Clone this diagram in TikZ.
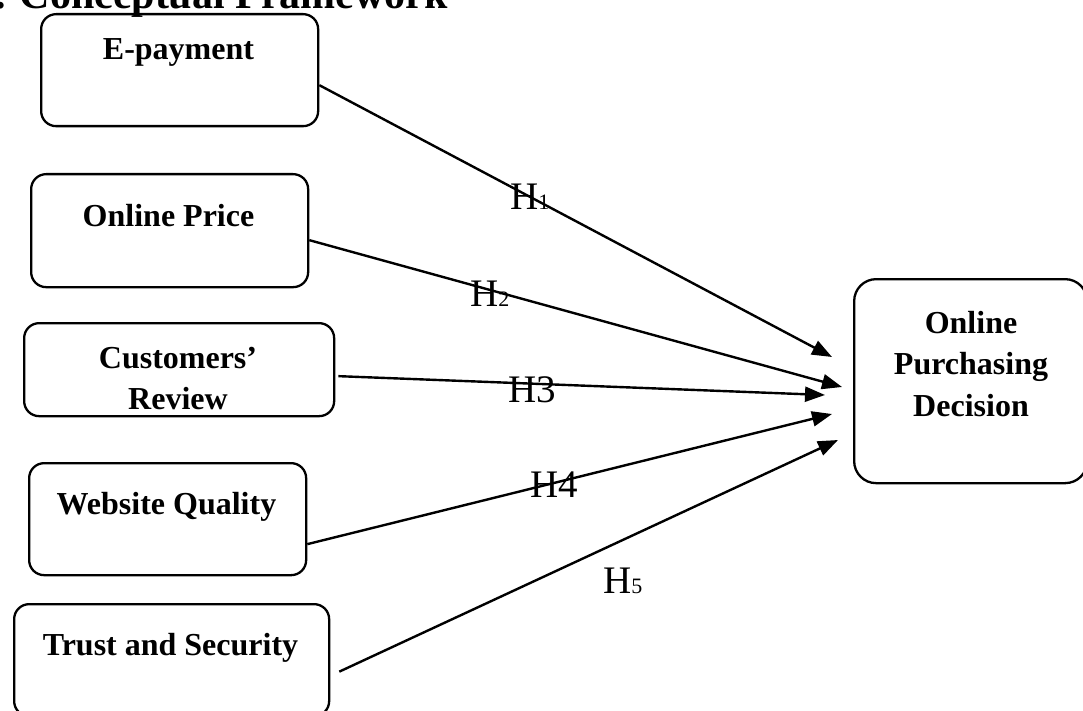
\documentclass[tikz,border=0pt]{standalone}
\usepackage{fontspec}
\setmainfont{Liberation Serif}
\usetikzlibrary{arrows.meta}
\begin{document}
\begin{tikzpicture}[x=1pt,y=-1pt,
  box/.style={draw,line width=2.3pt,rounded corners=15pt,inner sep=0pt,anchor=north west},
  lab/.style={font=\fontsize{32}{41.5}\selectfont\bfseries,inner sep=0pt,anchor=base,align=flush center,text width=300pt},
  hyp/.style={font=\fontsize{39}{45}\selectfont,inner sep=0pt,anchor=base west},
  conn/.style={line width=2.4pt,-{Triangle[length=20pt,width=15pt]}}]
\useasboundingbox (0,0) rectangle (1083,711);
\clip (0,0) rectangle (1083,711);
% title (cut off at top)
\node[font=\fontsize{42}{48}\selectfont\bfseries,inner sep=0pt,anchor=base east] (title) at (448,9) {1. Conceptual Framework};
% boxes
\node[box,minimum width=277pt,minimum height=112pt] (ep) at (40,13) {};
\node[box,minimum width=277pt,minimum height=113pt] (op) at (30,173) {};
\node[box,minimum width=310pt,minimum height=93pt] (cr) at (23,322) {};
\node[box,minimum width=277pt,minimum height=112pt] (wq) at (28,462) {};
\node[box,minimum width=315pt,minimum height=112pt] (ts) at (13,603) {};
\node[box,rounded corners=22pt,minimum width=233pt,minimum height=204pt] (pd) at (853,278) {};
% box texts
\node[lab] (epT) at (178.5,60) {E-payment};
\node[lab] (opT) at (168.5,226) {Online Price};
\node[lab] (crT) at (178,368) {Customers'\\Review};
\node[lab] (wqT) at (166.5,514) {Website Quality};
\node[lab] (tsT) at (170.5,655) {Trust and Security};
\node[lab,text width=230pt] (pdT) at (971,333) {Online\\Purchasing\\Decision};
% tips
\coordinate (t1) at (832,357);
\coordinate (t2) at (842,387);
\coordinate (t3) at (825,395);
\coordinate (t4) at (832,414);
\coordinate (t5) at (838,440);
% connectors
\draw[conn] ([yshift=-15pt]ep.east) -- (t1);
\draw[conn] ([yshift=-9.5pt]op.east) -- (t2);
\draw[conn] ([xshift=3pt,yshift=-6.5pt]cr.east) -- (t3);
\draw[conn] ([yshift=-25pt]wq.east) -- (t4);
\draw[conn] ([xshift=9pt,yshift=-11.5pt]ts.east) -- (t5);
% hypothesis labels
\node[hyp] (h1) at (510,210) {H\fontsize{22}{24}\selectfont 1};
\node[hyp] (h2) at (470,306) {H\fontsize{22}{24}\selectfont 2};
\node[hyp] (h3) at (508,402) {H3};
\node[hyp] (h4) at (530,497) {H4};
\node[hyp] (h5) at (603,593) {H\fontsize{22}{24}\selectfont 5};
\end{tikzpicture}
\end{document}
